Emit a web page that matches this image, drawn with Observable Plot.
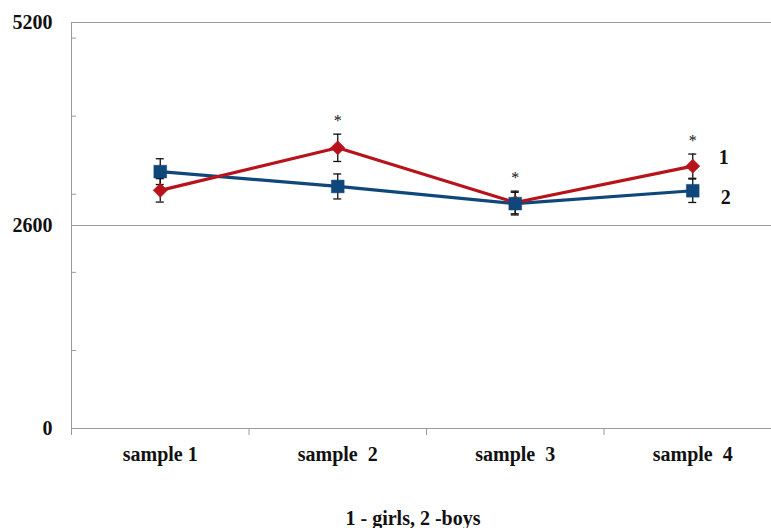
<!DOCTYPE html>
<html>
<head>
<meta charset="utf-8">
<script src="https://cdn.jsdelivr.net/npm/d3@7"></script>
<script src="https://cdn.jsdelivr.net/npm/@observablehq/plot@0.6"></script>
<style>
  body { margin: 0; background: #fff; }
  #wrap { position: relative; width: 771px; height: 528px; overflow: hidden; background: #fff; }
  #cap { position: absolute; left: 413px; top: 507px; transform: translateX(-50%);
         font: bold 20px "Liberation Serif", serif; line-height: 23px; white-space: nowrap; color: #111; }
</style>
</head>
<body>
<div id="wrap"><div id="chart"></div><div id="cap">1 - girls, 2 -boys</div></div>
<script>
const samples = ["sample 1", "sample  2", "sample  3", "sample  4"];
const girls = [3050, 3595, 2895, 3360];
const girlsErr = [150, 175, 145, 155];
const boys = [3290, 3100, 2880, 3045];
const boysErr = [165, 160, 145, 150];
const stars = ["", "*", "*", "*"];
const seriesLabels = ["1", "2"];
const yMajor = [0, 2600, 5200];
const yMinor = [1000, 2000, 3000, 4000, 5000];
const gridValues = [2600, 5200];

const red = "#b8121b";
const blue = "#10477a";
const gray = "#9a9a9a";

const idx = samples.map((_, i) => i);
const bounds = [-0.5, ...idx.slice(0, -1).map(i => i + 0.5)];
const G = idx.map(i => ({i, v: girls[i], e: girlsErr[i]}));
const B = idx.map(i => ({i, v: boys[i], e: boysErr[i]}));
const S = idx.map(i => ({i, s: stars[i], top: Math.max(girls[i] + girlsErr[i], boys[i] + boysErr[i])}));
const last = idx.length - 1;

const chart = Plot.plot({
  width: 771,
  height: 470,
  marginLeft: 71,
  marginRight: -10,
  marginTop: 22,
  marginBottom: 42,
  style: {fontFamily: "'Liberation Serif', serif", background: "#fff", color: "#111"},
  x: {type: "linear", domain: [-0.5, 3.5], axis: null},
  y: {domain: [0, 5200], axis: null},
  marks: [
    Plot.ruleY(gridValues, {stroke: gray, strokeWidth: 1}),
    Plot.axisY({ticks: yMinor, tickSize: 5, dx: 5, text: null, label: null, stroke: gray, strokeOpacity: 1}),
    Plot.axisY({ticks: yMajor, tickSize: 0, tickPadding: 19, tickFormat: d => String(d), label: null, fontSize: 20, fontWeight: "bold"}),
    Plot.axisX({ticks: bounds, tickSize: 7, text: null, label: null, stroke: gray, strokeOpacity: 1}),
    Plot.axisX({ticks: idx, tickSize: 0, tickPadding: 18, tickFormat: i => samples[i].replace(/  /g, " \u00a0"), label: null, fontSize: 20, fontWeight: "bold"}),
    Plot.ruleY([0], {stroke: gray, strokeWidth: 1}),
    Plot.ruleX([-0.5], {stroke: gray, strokeWidth: 1}),
    Plot.line(B, {x: "i", y: "v", stroke: blue, strokeWidth: 3.2}),
    Plot.line(G, {x: "i", y: "v", stroke: red, strokeWidth: 3.2}),
    Plot.ruleX(G, {x: "i", y1: d => d.v - d.e, y2: d => d.v + d.e, stroke: "#111", strokeWidth: 1.3}),
    Plot.ruleX(B, {x: "i", y1: d => d.v - d.e, y2: d => d.v + d.e, stroke: "#111", strokeWidth: 1.3}),
    Plot.ruleY(G, {x1: "i", x2: "i", y: d => d.v - d.e, insetLeft: -4, insetRight: -4, stroke: "#111", strokeWidth: 1.3}),
    Plot.ruleY(G, {x1: "i", x2: "i", y: d => d.v + d.e, insetLeft: -4, insetRight: -4, stroke: "#111", strokeWidth: 1.3}),
    Plot.ruleY(B, {x1: "i", x2: "i", y: d => d.v - d.e, insetLeft: -4, insetRight: -4, stroke: "#111", strokeWidth: 1.3}),
    Plot.ruleY(B, {x1: "i", x2: "i", y: d => d.v + d.e, insetLeft: -4, insetRight: -4, stroke: "#111", strokeWidth: 1.3}),
    Plot.dot(G, {x: "i", y: "v", symbol: "diamond2", r: 6.4, fill: red, stroke: red, strokeWidth: 0.5}),
    Plot.dot(B, {x: "i", y: "v", symbol: "square", r: 7.2, fill: blue, stroke: blue, strokeWidth: 0.5}),
    Plot.text(S, {x: "i", y: "top", text: "s", dy: -13, fontSize: 16, fill: "#111"}),
    Plot.text([G[last]], {x: "i", y: "v", text: () => seriesLabels[0], dx: 31, dy: -9, fontSize: 20, fontWeight: "bold", fill: "#111"}),
    Plot.text([B[last]], {x: "i", y: "v", text: () => seriesLabels[1], dx: 33, dy: 7, fontSize: 20, fontWeight: "bold", fill: "#111"})
  ]
});
document.getElementById("chart").appendChild(chart);
</script>
</body>
</html>
